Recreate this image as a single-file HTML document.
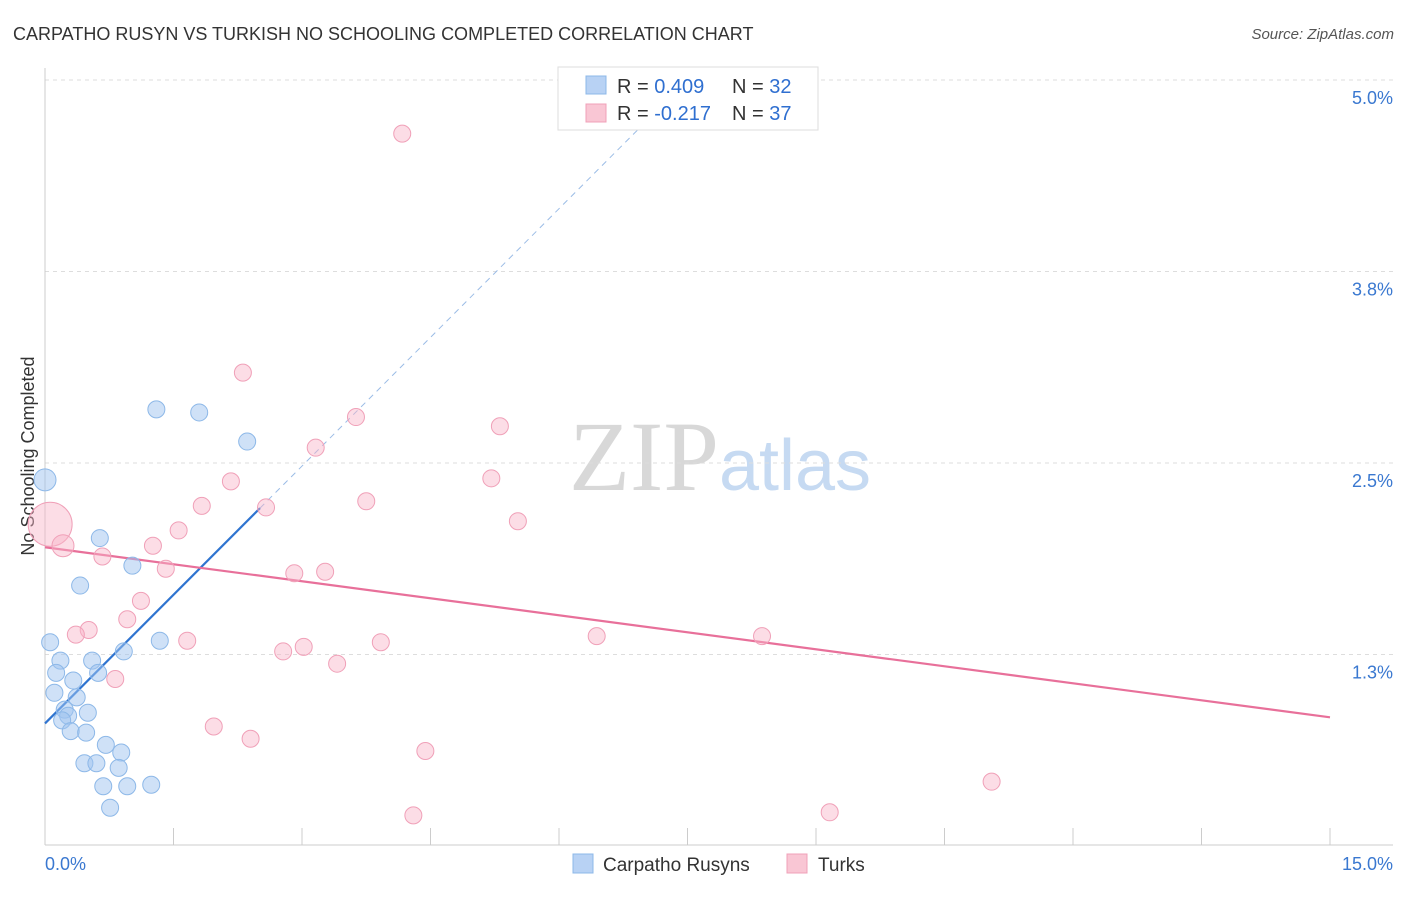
<!DOCTYPE html>
<html><head><meta charset="utf-8"><style>
body{margin:0;background:#fff;font-family:"Liberation Sans",sans-serif;}
svg text{font-family:"Liberation Sans",sans-serif;}
</style></head><body>
<svg id="chart" width="1406" height="892" xmlns="http://www.w3.org/2000/svg">
<text x="13" y="40" font-size="18" fill="#333">CARPATHO RUSYN VS TURKISH NO SCHOOLING COMPLETED CORRELATION CHART</text>
<text x="1394" y="39" font-size="15" fill="#555" font-style="italic" text-anchor="end">Source: ZipAtlas.com</text>
<text x="720" y="490" font-size="100" text-anchor="middle"><tspan fill="#d8d8d8" style="font-family:'Liberation Serif',serif">ZIP</tspan><tspan fill="#c6daf2" font-size="72">atlas</tspan></text>
<text transform="translate(34,456) rotate(-90)" font-size="18" fill="#333" text-anchor="middle">No Schooling Completed</text>
<g id="grid"></g><g id="axes"></g><g id="trend"></g><g id="points"></g>
<g>
<rect x="558" y="67" width="260" height="63" fill="#fff" stroke="#ddd"/>
<rect x="586" y="76" width="20" height="18" fill="#b8d2f4" stroke="#8db8e8"/>
<rect x="586" y="104" width="20" height="18" fill="#f9c6d4" stroke="#f0a0b8"/>
<text x="617" y="93" font-size="20" fill="#333">R = <tspan fill="#2f6fd0">0.409</tspan></text>
<text x="732" y="93" font-size="20" fill="#333">N = <tspan fill="#2f6fd0">32</tspan></text>
<text x="617" y="120" font-size="20" fill="#333">R = <tspan fill="#2f6fd0">-0.217</tspan></text>
<text x="732" y="120" font-size="20" fill="#333">N = <tspan fill="#2f6fd0">37</tspan></text>
</g>
<g>
<rect x="573" y="854" width="20" height="19" fill="#b8d2f4" stroke="#8db8e8"/>
<text x="603" y="871" font-size="19" fill="#333">Carpatho Rusyns</text>
<rect x="787" y="854" width="20" height="19" fill="#f9c6d4" stroke="#f0a0b8"/>
<text x="818" y="871" font-size="19" fill="#333">Turks</text>
</g>
</svg>
<script>
const yTicks=[1.25,2.5,3.75,5.0];
const yTickLabels=["1.3%","2.5%","3.8%","5.0%"];
const xTicks=[0,1.5,3,4.5,6,7.5,9,10.5,12,13.5,15];
const blueX=[0.00,1.30,1.80,2.36,0.64,1.02,0.41,0.06,1.34,0.92,0.18,0.55,0.13,0.62,0.33,0.11,0.37,0.23,0.50,0.27,0.20,0.30,0.48,0.71,0.89,0.46,0.60,0.86,0.68,0.96,1.24,0.76];
const blueY=[2.39,2.85,2.83,2.64,2.01,1.83,1.70,1.33,1.34,1.27,1.21,1.21,1.13,1.13,1.08,1.00,0.97,0.89,0.87,0.85,0.82,0.75,0.74,0.66,0.61,0.54,0.54,0.51,0.39,0.39,0.40,0.25];
const pinkX=[0.06,0.21,4.17,2.31,3.63,5.31,3.16,2.17,5.21,1.83,3.75,2.58,5.52,1.56,1.26,0.67,1.41,2.91,3.27,1.12,0.96,0.51,0.36,1.66,3.92,6.44,8.37,3.02,2.78,3.41,0.82,1.97,2.40,4.44,11.05,4.30,9.16];
const pinkY=[2.10,1.96,4.65,3.09,2.80,2.74,2.60,2.38,2.40,2.22,2.25,2.21,2.12,2.06,1.96,1.89,1.81,1.78,1.79,1.60,1.48,1.41,1.38,1.34,1.33,1.37,1.37,1.30,1.27,1.19,1.09,0.78,0.70,0.62,0.42,0.20,0.22];
const blueTrend=[0.80,0.56];
const pinkTrend=[1.95,-0.074];
const X0=45,X1=1330,Y0=846,PXPERY=153.2;
const sx=v=>X0+(X1-X0)*v/15, sy=v=>Y0-v*PXPERY;
const NS="http://www.w3.org/2000/svg";
function mk(tag,parent,attrs){const e=document.createElementNS(NS,tag);for(const k in attrs)e.setAttribute(k,attrs[k]);document.getElementById(parent).appendChild(e);return e;}
yTicks.forEach((t,i)=>{
 const l=mk('line','grid',{x1:45,x2:1393,y1:sy(t),y2:sy(t),stroke:'#ddd','stroke-dasharray':'4,4'});
 
 
 const tx=mk('text','grid',{x:1393,y:sy(t)+24,'font-size':18,fill:'#3a78d0','text-anchor':'end'});
 tx.textContent=yTickLabels[i];
 
 
});
const topGrid=mk('line','grid',{x1:45,x2:1393,y1:80,y2:80,stroke:'#ddd','stroke-dasharray':'4,4'});


const yAxisLine=mk('line','axes',{x1:45,x2:45,y1:68,y2:845,stroke:'#ccc'});


const xAxisLine=mk('line','axes',{x1:45,x2:1393,y1:845,y2:845,stroke:'#ccc'});


xTicks.forEach(t=>{
 const l=mk('line','axes',{x1:sx(t),x2:sx(t),y1:828,y2:845,stroke:'#ccc'});
 
 
});
[[0,'0.0%','start',45],[15,'15.0%','end',1393]].forEach(a=>{
 const t=mk('text','axes',{x:a[3],y:870,'font-size':18,fill:'#3a78d0','text-anchor':a[2]});
 t.textContent=a[1];
 
 
});
function pts(xs,ys,fill,stroke,name,big){
 xs.forEach((x,i)=>{
  const r=big[i]||8.5;
  const c=mk('circle','points',{cx:sx(x),cy:sy(ys[i]),r:r,fill:fill,stroke:stroke,'stroke-width':1});
  
  
 });
}
pts(pinkX,pinkY,'rgba(248,180,200,0.45)','#f0a0b8','turks-point',{0:22,1:11});
pts(blueX,blueY,'rgba(160,196,240,0.5)','#8db8e8','carpatho-rusyn-point',{0:11});
function tl(p,xa,xb,color,dash,name,w){
 const l=mk('line','trend',{x1:sx(xa),y1:sy(p[0]+p[1]*xa),x2:sx(xb),y2:sy(p[0]+p[1]*xb),stroke:color,'stroke-width':w});
 if(dash)l.setAttribute('stroke-dasharray',dash);
 
 
}
tl(blueTrend,2.51,7.06,'#9bbce6','6,5','carpatho-trend-extension',1);
tl(blueTrend,0,2.51,'#2f74d0',null,'carpatho-trend-line',2.2);
tl(pinkTrend,0,15,'#e8709a',null,'turks-trend-line',2.2);
</script>
</body></html>
